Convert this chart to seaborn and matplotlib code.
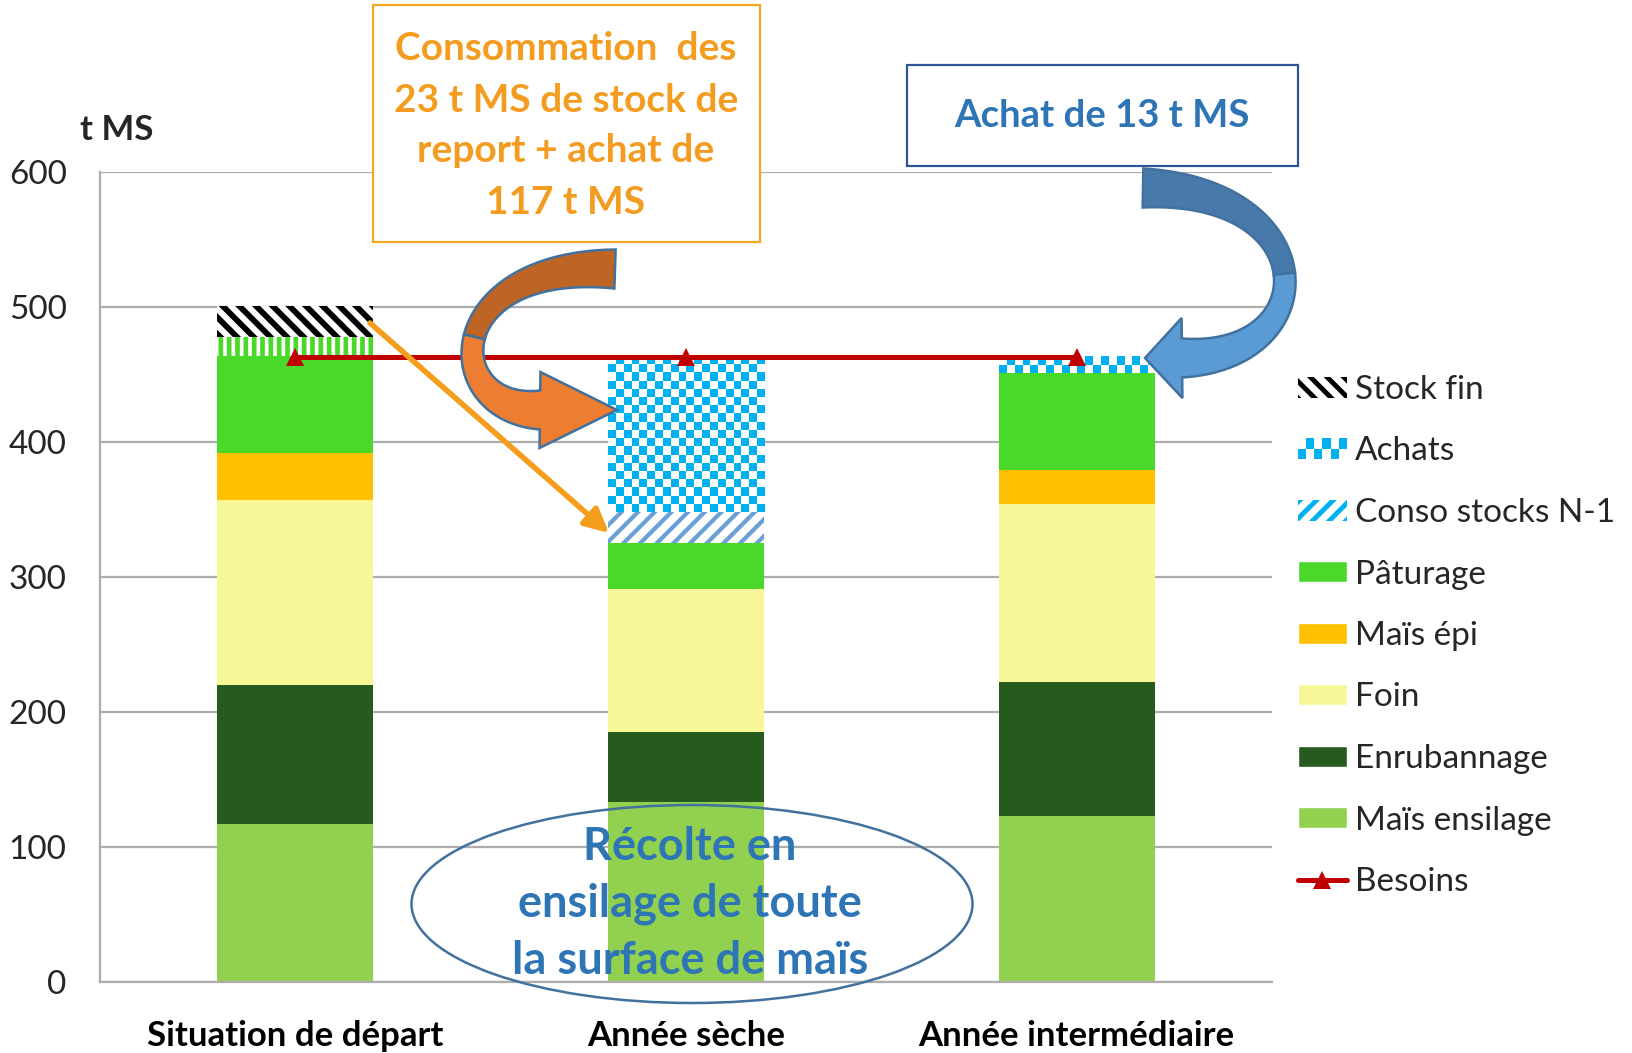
import matplotlib
matplotlib.use("Agg")
import matplotlib.pyplot as plt
import numpy as np
import seaborn as sns
from matplotlib.colors import ListedColormap
from matplotlib.legend_handler import HandlerBase
from matplotlib.lines import Line2D
from matplotlib.patches import Ellipse, Patch, Polygon, Rectangle

# Données (t MS)
categories = ["Situation de départ", "Année sèche", "Année intermédiaire"]
mais_ensilage = [117, 133, 123]
enrubannage = [103, 52, 99]
foin = [137, 106, 132]
mais_epi = [35, 0, 25]
paturage = [72, 34, 72]
paturage_report = [14, 0, 0]   # bande rayée verte, hors légende
conso_stocks = [0, 23, 0]
achats = [0, 115, 12]
stock_fin = [23, 0, 0]
besoins = [463, 463, 463]

W, H = 1633, 1053
AX_L, AX_R, AX_T, AX_B = 100, 1272, 172, 982
GRID = "#ADADAD"
ORANGE_TXT = "#F39C1F"
BLUE_TXT = "#2E75B6"

sns.set_style("white")
plt.rcParams["font.family"] = ["Lato", "DejaVu Sans"]
plt.rcParams["hatch.linewidth"] = 3.5


def fig_xy(x, y):
    """pixels de l'image (origine en haut) -> fraction de figure"""
    return x / W, 1 - y / H


def curved_arrow(p0, c1, c2, p3, half_tail, half_head, head_len):
    """Flèche courbe (bézier cubique) : renvoie les deux moitiés en pixels."""
    p0, c1, c2, p3 = map(np.asarray, (p0, c1, c2, p3))

    def side(t0, t1):
        t = np.linspace(t0, t1, 60)[:, None]
        pts = (1 - t) ** 3 * p0 + 3 * (1 - t) ** 2 * t * c1 + 3 * (1 - t) * t ** 2 * c2 + t ** 3 * p3
        d = np.gradient(pts, axis=0)
        n = np.stack([-d[:, 1], d[:, 0]], axis=1)
        n /= np.linalg.norm(n, axis=1, keepdims=True)
        w = half_tail * (1 - 0.45 * np.sin(np.pi * t))
        return pts + n * w, pts - n * w, n[-1]

    a_l, a_r, _ = side(0.0, 0.5)
    upper = np.vstack([a_l, a_r[::-1]])

    b_l, b_r, n_end = side(0.5, 1.0)
    direction = (p3 - c2) / np.linalg.norm(p3 - c2)
    tip = p3 + direction * head_len
    head = [p3 + n_end * half_head, tip, p3 - n_end * half_head]
    lower = np.vstack([b_l, head, b_r[::-1]])
    return upper, lower


class CheckerHandler(HandlerBase):
    def create_artists(self, legend, orig_handle, xdescent, ydescent,
                       width, height, fontsize, trans):
        nx, ny = 6, 2
        sw, sh = width / nx, height / ny
        arts = [Rectangle((-xdescent, -ydescent), width, height,
                          facecolor="white", edgecolor="none", transform=trans)]
        for i in range(nx):
            for j in range(ny):
                if (i + j) % 2 == 0:
                    arts.append(Rectangle((-xdescent + i * sw, -ydescent + j * sh), sw, sh,
                                          facecolor="#00B0F0", edgecolor="none",
                                          transform=trans))
        return arts


fig = plt.figure(figsize=(W / 100, H / 100), dpi=100)
ax = fig.add_axes([AX_L / W, 1 - AX_B / H, (AX_R - AX_L) / W, (AX_B - AX_T) / H])

# ─── Barres empilées ──────────────────────────────────────────────────────────
layers = [
    # (nom, valeurs, couleur de fond, couleur hachure, hachure, épaisseur hachure)
    ("mais_ensilage", mais_ensilage, "#92D050", None, None, None),
    ("enrubannage", enrubannage, "#265A1F", None, None, None),
    ("foin", foin, "#F7F797", None, None, None),
    ("mais_epi", mais_epi, "#FFC000", None, None, None),
    ("paturage", paturage, "#4AD92A", None, None, None),
    ("paturage_report", paturage_report, "white", "#4AD92A", "||", 3.4),
    ("conso_stocks", conso_stocks, "white", "#6A9FD8", "//", 3.0),
    ("achats", achats, "white", None, None, None),
    ("stock_fin", stock_fin, "white", "black", "\\\\", 4.2),
]

bottom = np.zeros(len(categories))
layer_patches = {}
for name, vals, face, hcol, hatch, hlw in layers:
    n_before = len(ax.patches)
    kws = dict(linewidth=0)
    if hatch:
        kws.update(hatch=hatch, edgecolor=hcol)
    else:
        kws.update(edgecolor="none")
    sns.barplot(x=categories, y=vals, order=categories, color=face, saturation=1,
                width=0.4, errorbar=None, bottom=bottom, ax=ax, zorder=2, **kws)
    new = ax.patches[n_before:]
    for p in new:
        if hatch and hasattr(p, "set_hatch_linewidth"):
            p.set_hatch_linewidth(hlw)
    layer_patches[name] = new
    bottom = bottom + np.asarray(vals, dtype=float)

# damier des achats
px_x = (AX_R - AX_L) / 3
px_y = (AX_B - AX_T) / 600
checker_cmap = ListedColormap(["white", "#00B0F0"])
for p in layer_patches["achats"]:
    h = p.get_height()
    if h <= 0:
        continue
    x0, y0, w = p.get_x(), p.get_y(), p.get_width()
    nx = max(1, int(round(w * px_x / 8)))
    ny = max(1, int(round(h * px_y / 8)))
    board = np.add.outer(np.arange(ny), np.arange(nx)) % 2
    ax.imshow(board[::-1], cmap=checker_cmap, vmin=0, vmax=1, extent=(x0, x0 + w, y0, y0 + h),
              aspect="auto", interpolation="nearest", origin="lower", zorder=2.1)

# Besoins
sns.lineplot(x=categories, y=besoins, sort=False, color="#C00000", lw=3.6,
             marker="^", markersize=13, markeredgewidth=0, ax=ax, zorder=4)

# ─── Axes ─────────────────────────────────────────────────────────────────────
ax.set_xlim(-0.5, 2.5)
ax.set_ylim(0, 600)
ax.set_yticks(range(0, 601, 100))
ax.yaxis.grid(True, color=GRID, lw=1.6)
ax.xaxis.grid(False)
ax.set_axisbelow(True)
for s in ["top", "right"]:
    ax.spines[s].set_visible(False)
for s in ["left", "bottom"]:
    ax.spines[s].set_color(GRID)
    ax.spines[s].set_linewidth(1.6)

ax.set_xticks(range(len(categories)))
ax.set_xticklabels(categories, fontsize=25, fontweight="bold")
ax.set_xticks([-0.5, 0.5, 1.5, 2.5], minor=True)
ax.tick_params(axis="x", which="major", length=0, pad=27, colors="black")
ax.tick_params(axis="x", which="minor", length=9, width=1.6, color=GRID)
ax.tick_params(axis="y", length=9, width=1.6, color=GRID, pad=15, labelsize=24)
ax.set_xlabel("")
ax.set_ylabel("t MS", rotation=0, fontsize=25, fontweight="bold", ha="center", va="center")
ax.yaxis.set_label_coords((117 - AX_L) / (AX_R - AX_L), (AX_B - 130) / (AX_B - AX_T))

# ─── Légende ──────────────────────────────────────────────────────────────────
h_stock = Patch(facecolor="white", edgecolor="black", hatch="\\\\", linewidth=0)
h_achats = Patch(facecolor="#00B0F0")
h_conso = Patch(facecolor="white", edgecolor="#00B0F0", hatch="//", linewidth=0)
for hp, lw in [(h_stock, 4.0), (h_conso, 3.2)]:
    if hasattr(hp, "set_hatch_linewidth"):
        hp.set_hatch_linewidth(lw)
handles = [
    h_stock, h_achats, h_conso,
    Patch(facecolor="#4AD92A"),
    Patch(facecolor="#FFC000"),
    Patch(facecolor="#F7F797"),
    Patch(facecolor="#265A1F"),
    Patch(facecolor="#92D050"),
    Line2D([], [], color="#C00000", lw=3.6, marker="^", markersize=13, markeredgewidth=0),
]
labels = ["Stock fin", "Achats", "Conso stocks N-1", "Pâturage", "Maïs épi",
          "Foin", "Enrubannage", "Maïs ensilage", "Besoins"]
fig.legend(handles, labels, loc="upper left", bbox_to_anchor=fig_xy(1298, 375),
           frameon=False, fontsize=24, borderpad=0, borderaxespad=0,
           handlelength=1.47, handleheight=0.6, handletextpad=0.24, labelspacing=0.945,
           handler_map={h_achats: CheckerHandler()})

# ─── Annotations ──────────────────────────────────────────────────────────────
# encadré orange
x0, y0 = fig_xy(373, 242)
fig.add_artist(Rectangle((x0, y0), (760 - 373) / W, (242 - 5) / H, transform=fig.transFigure,
                         facecolor="white", edgecolor="#F5A623", lw=1.6, zorder=5))
for txt, yy in zip(["Consommation  des", "23 t MS de stock de", "report + achat de", "117 t MS"],
                   [49, 100, 151, 202]):
    fig.text(*fig_xy(566, yy), txt, ha="center", va="center", fontsize=28,
             fontweight="bold", color=ORANGE_TXT, zorder=6)

# encadré bleu
x0, y0 = fig_xy(907, 166)
fig.add_artist(Rectangle((x0, y0), (1298 - 907) / W, (166 - 65) / H, transform=fig.transFigure,
                         facecolor="white", edgecolor="#2F5597", lw=1.6, zorder=5))
fig.text(*fig_xy(1102, 116), "Achat de 13 t MS", ha="center", va="center", fontsize=27.5,
         fontweight="bold", color=BLUE_TXT, zorder=6)

# flèche droite orange
ax.annotate("", xy=fig_xy(609, 533), xytext=fig_xy(370, 323),
            xycoords="figure fraction", textcoords="figure fraction",
            arrowprops=dict(arrowstyle="-|>", color="#F59D1C", lw=4, mutation_scale=36,
                            shrinkA=0, shrinkB=0), zorder=6)

# flèches courbes
for (p0, c1, c2, p3, hh, hl), (c_top, c_bot) in [
    (((615, 269), (440, 262), (440, 410), (540, 410), 38, 77), ("#BE6425", "#ED7D31")),
    (((1143, 188), (1325, 190), (1325, 358), (1182, 358), 40, 37), ("#477AAA", "#5B9BD5")),
]:
    up, low = curved_arrow(p0, c1, c2, p3, 19.5, hh, hl)
    for poly, col in [(up, c_top), (low, c_bot)]:
        pts = np.column_stack([poly[:, 0] / W, 1 - poly[:, 1] / H])
        fig.add_artist(Polygon(pts, closed=True, transform=fig.transFigure,
                               facecolor=col, edgecolor="#41719C", lw=1.8, zorder=7))

# ellipse
fig.add_artist(Ellipse(fig_xy(692, 904), 561 / W, 198 / H, transform=fig.transFigure,
                       facecolor="none", edgecolor="#41719C", lw=1.8, zorder=5))
for txt, yy in zip(["Récolte en", "ensilage de toute", "la surface de maïs"], [847, 904, 961]):
    fig.text(*fig_xy(690, yy), txt, ha="center", va="center", fontsize=32.5,
             fontweight="bold", color=BLUE_TXT, zorder=6)

fig.savefig("out.png", dpi=100)
